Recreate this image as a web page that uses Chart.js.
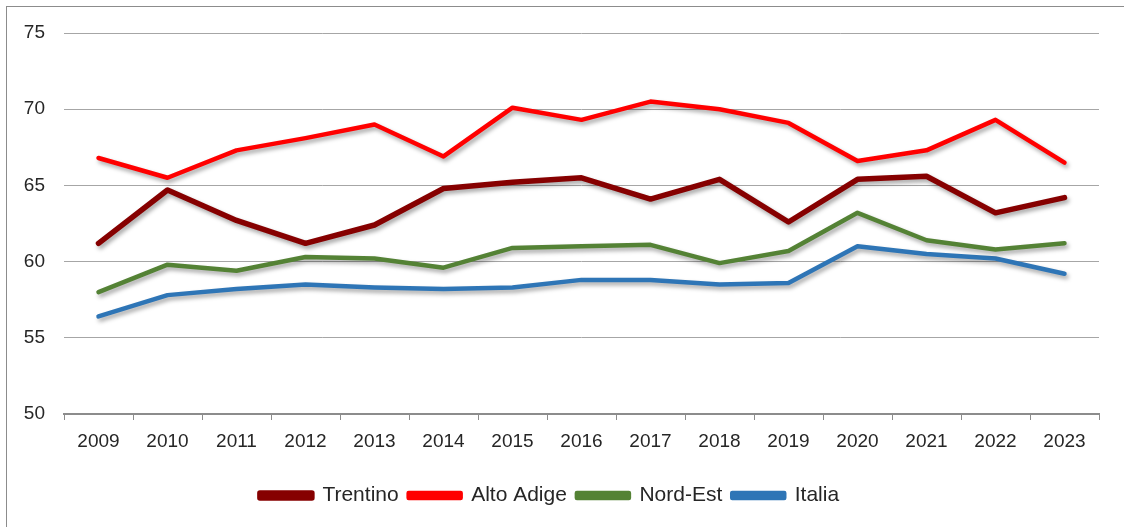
<!DOCTYPE html>
<html>
<head>
<meta charset="utf-8">
<script src="https://cdn.jsdelivr.net/npm/chart.js@4.4.1/dist/chart.umd.min.js"></script>
<style>
  html, body { margin: 0; padding: 0; background: #ffffff; }
  #wrap { position: relative; width: 1124px; height: 527px; }
</style>
</head>
<body>
<div id="wrap"><canvas id="c" width="1124" height="527"></canvas></div>
<script>
const years = ["2009","2010","2011","2012","2013","2014","2015","2016","2017","2018","2019","2020","2021","2022","2023"];
const trentino  = [61.2, 64.7, 62.7, 61.2, 62.4, 64.8, 65.2, 65.5, 64.1, 65.4, 62.6, 65.4, 65.6, 63.2, 64.2];
const altoAdige = [66.8, 65.5, 67.3, 68.1, 69.0, 66.9, 70.1, 69.3, 70.5, 70.0, 69.1, 66.6, 67.3, 69.3, 66.5];
const nordEst   = [58.0, 59.8, 59.4, 60.3, 60.2, 59.6, 60.9, 61.0, 61.1, 59.9, 60.7, 63.2, 61.4, 60.8, 61.2];
const italia    = [56.4, 57.8, 58.2, 58.5, 58.3, 58.2, 58.3, 58.8, 58.8, 58.5, 58.6, 61.0, 60.5, 60.2, 59.2];
const yTicks    = [50, 55, 60, 65, 70, 75];

const FONT = "'Liberation Sans', 'DejaVu Sans', sans-serif";

const frame = {
  id: 'frame',
  beforeDraw(chart) {
    const ctx = chart.ctx;
    ctx.save();
    ctx.fillStyle = '#ffffff';
    ctx.fillRect(0, 0, chart.width, chart.height);
    ctx.strokeStyle = '#8c8c8c';
    ctx.lineWidth = 1;
    ctx.strokeRect(6.5, 6.5, chart.width + 10, chart.height + 10);
    ctx.restore();
  }
};

const shadow = {
  id: 'shadow',
  beforeDatasetsDraw(chart) {
    const ctx = chart.ctx;
    ctx.save();
    ctx.shadowColor = 'rgba(0,0,0,0.35)';
    ctx.shadowBlur = 4;
    ctx.shadowOffsetX = 2;
    ctx.shadowOffsetY = 3;
  },
  afterDatasetsDraw(chart) {
    chart.ctx.restore();
  }
};

function ds(label, data, color, width) {
  return {
    label, data,
    borderColor: color,
    backgroundColor: color,
    borderWidth: width,
    pointRadius: 0,
    pointHoverRadius: 0,
    tension: 0,
    fill: false,
    borderCapStyle: 'round',
    borderJoinStyle: 'round'
  };
}

new Chart(document.getElementById('c'), {
  type: 'line',
  data: {
    labels: years,
    datasets: [
      ds('Trentino', trentino, '#860000', 5.5),
      ds('Alto Adige', altoAdige, '#ff0000', 4.5),
      ds('Nord-Est', nordEst, '#548235', 4.5),
      ds('Italia', italia, '#2e75b6', 4.5)
    ]
  },
  options: {
    responsive: false,
    animation: false,
    devicePixelRatio: 1,
    layout: { padding: { top: 33, left: 0, right: 25, bottom: 11 } },
    plugins: {
      tooltip: { enabled: false },
      legend: {
        position: 'bottom',
        labels: {
          font: { family: FONT, size: 21 },
          color: '#262626',
          boxWidth: 52,
          boxHeight: 5,
          padding: 10
        }
      }
    },
    scales: {
      x: {
        type: 'category',
        offset: true,
        grid: {
          offset: true,
          drawOnChartArea: false,
          drawTicks: true,
          tickLength: 6,
          color: '#8c8c8c',
          lineWidth: 1
        },
        border: { display: true, color: '#8c8c8c', width: 2 },
        ticks: {
          font: { family: FONT, size: 19 },
          color: '#262626',
          padding: 10,
          maxRotation: 0,
          autoSkip: false
        },
        afterFit(scale) { scale.height = 61; }
      },
      y: {
        min: 50,
        max: 75,
        afterBuildTicks(scale) { scale.ticks = yTicks.map(v => ({ value: v })); },
        grid: {
          drawTicks: false,
          color: '#a6a6a6',
          lineWidth: 1
        },
        border: { display: false },
        ticks: {
          font: { family: FONT, size: 19 },
          color: '#262626',
          padding: 19
        },
        afterFit(scale) { scale.width = 64; }
      }
    }
  },
  plugins: [frame, shadow]
});
</script>
</body>
</html>
